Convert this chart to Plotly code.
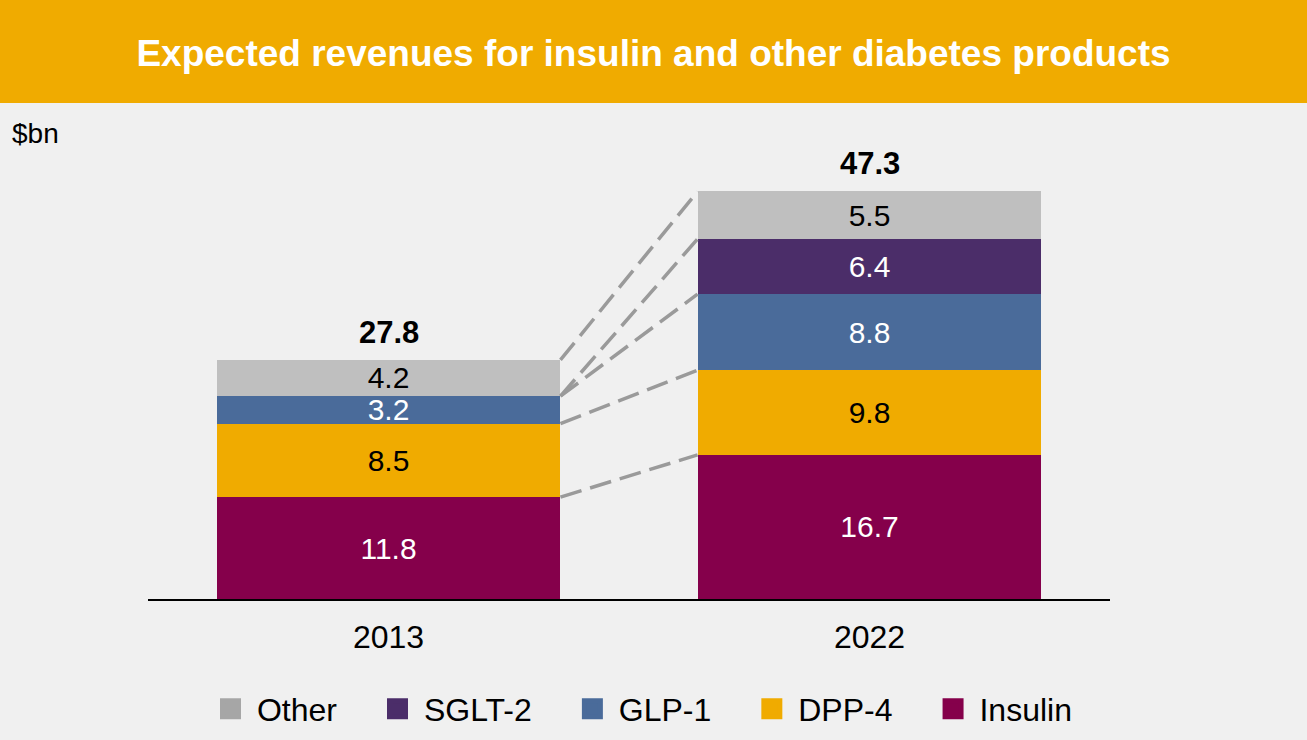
import plotly.graph_objects as go

# data
years = ["2013", "2022"]
segments = ["Insulin", "DPP-4", "GLP-1", "SGLT-2", "Other"]
insulin = [11.8, 16.7]
dpp4 = [8.5, 9.8]
glp1 = [3.2, 8.8]
sglt2 = [0.0, 6.4]
other = [4.2, 5.5]
totals = [27.8, 47.3]

bar_colors = {"Insulin": "#85004B", "DPP-4": "#F0AB00", "GLP-1": "#4A6B9A",
              "SGLT-2": "#4B2D69", "Other": "#BFBFBF"}
legend_colors = {"Insulin": "#85004B", "DPP-4": "#F0AB00", "GLP-1": "#4A6B9A",
                 "SGLT-2": "#4B2D69", "Other": "#A6A6A6"}
text_colors = {"Insulin": "white", "DPP-4": "black", "GLP-1": "white",
               "SGLT-2": "white", "Other": "black"}

series = [insulin, dpp4, glp1, sglt2, other]
FONT = "Liberation Sans, Arial, sans-serif"
bar_w = 0.715
xpos = list(range(len(years)))

fig = go.Figure()

# stacked bars
for name, vals in zip(segments, series):
    fig.add_trace(go.Bar(
        x=xpos, y=vals, width=bar_w, name=name,
        marker=dict(color=bar_colors[name], line=dict(width=0)),
        text=[f"{v:.1f}" if v > 0 else "" for v in vals],
        textposition="inside", insidetextanchor="middle", textangle=0,
        textfont=dict(color=text_colors[name], size=30, family=FONT),
        showlegend=False, hoverinfo="skip",
    ))

# dashed connectors between the tops of matching segments
cum = [0.0, 0.0]
for vals in series:
    cum = [c + v for c, v in zip(cum, vals)]
    fig.add_trace(go.Scatter(
        x=[xpos[0] + bar_w / 2, xpos[1] - bar_w / 2], y=list(cum),
        mode="lines", line=dict(color="#9A9A9A", width=3.5, dash="22px,9px"),
        showlegend=False, hoverinfo="skip",
    ))

# legend entries
for name in ["Other", "SGLT-2", "GLP-1", "DPP-4", "Insulin"]:
    fig.add_trace(go.Scatter(
        x=[None], y=[None], mode="markers",
        name="\u2009" + name + "\u00a0" * 4,
        marker=dict(symbol="square", size=16, color=legend_colors[name],
                    line=dict(color=legend_colors[name], width=5)),
    ))

# totals above bars
for i, t in enumerate(totals):
    fig.add_annotation(x=xpos[i], y=cum[i], text=f"<b>{t:.1f}</b>", showarrow=False,
                       yanchor="bottom", yshift=8,
                       font=dict(size=31, color="black", family=FONT))

fig.add_annotation(xref="paper", yref="paper", x=-0.1435, y=0.983, text="$bn",
                   showarrow=False, xanchor="left", yanchor="middle",
                   font=dict(size=28, color="black", family=FONT))

# title banner
fig.add_shape(type="rect", xref="paper", yref="paper", x0=-0.2, x1=1.3,
              y0=1.0464, y1=1.3, fillcolor="#F0AB00", line=dict(width=0), layer="below")

fig.update_layout(
    width=1307, height=740,
    margin=dict(l=148, r=197, t=125, b=141, autoexpand=False),
    paper_bgcolor="#F0F0F0", plot_bgcolor="#F0F0F0",
    barmode="stack",
    title=dict(text="<b>Expected revenues for insulin and other diabetes products</b>",
               x=0.5, xanchor="center", y=1 - 53 / 740, yanchor="middle",
               font=dict(size=37, color="white", family=FONT)),
    font=dict(family=FONT, color="black"),
    uniformtext=dict(minsize=30, mode="show"),
    xaxis=dict(range=[-0.5, 1.5], tickvals=xpos, ticktext=years, showgrid=False,
               zeroline=False, showline=True, linecolor="black", linewidth=1.5,
               ticks="", ticklabelstandoff=9, tickfont=dict(size=32, family=FONT),
               fixedrange=True),
    yaxis=dict(range=[0, 54.9], visible=False, fixedrange=True),
    legend=dict(orientation="h", x=0.065, xanchor="left", y=-0.232, yanchor="middle",
                font=dict(size=32, family=FONT), bgcolor="rgba(0,0,0,0)",
                traceorder="normal"),
)

fig.write_html("out.html", config={"displayModeBar": False},
               post_script="document.body.style.margin='0';")
